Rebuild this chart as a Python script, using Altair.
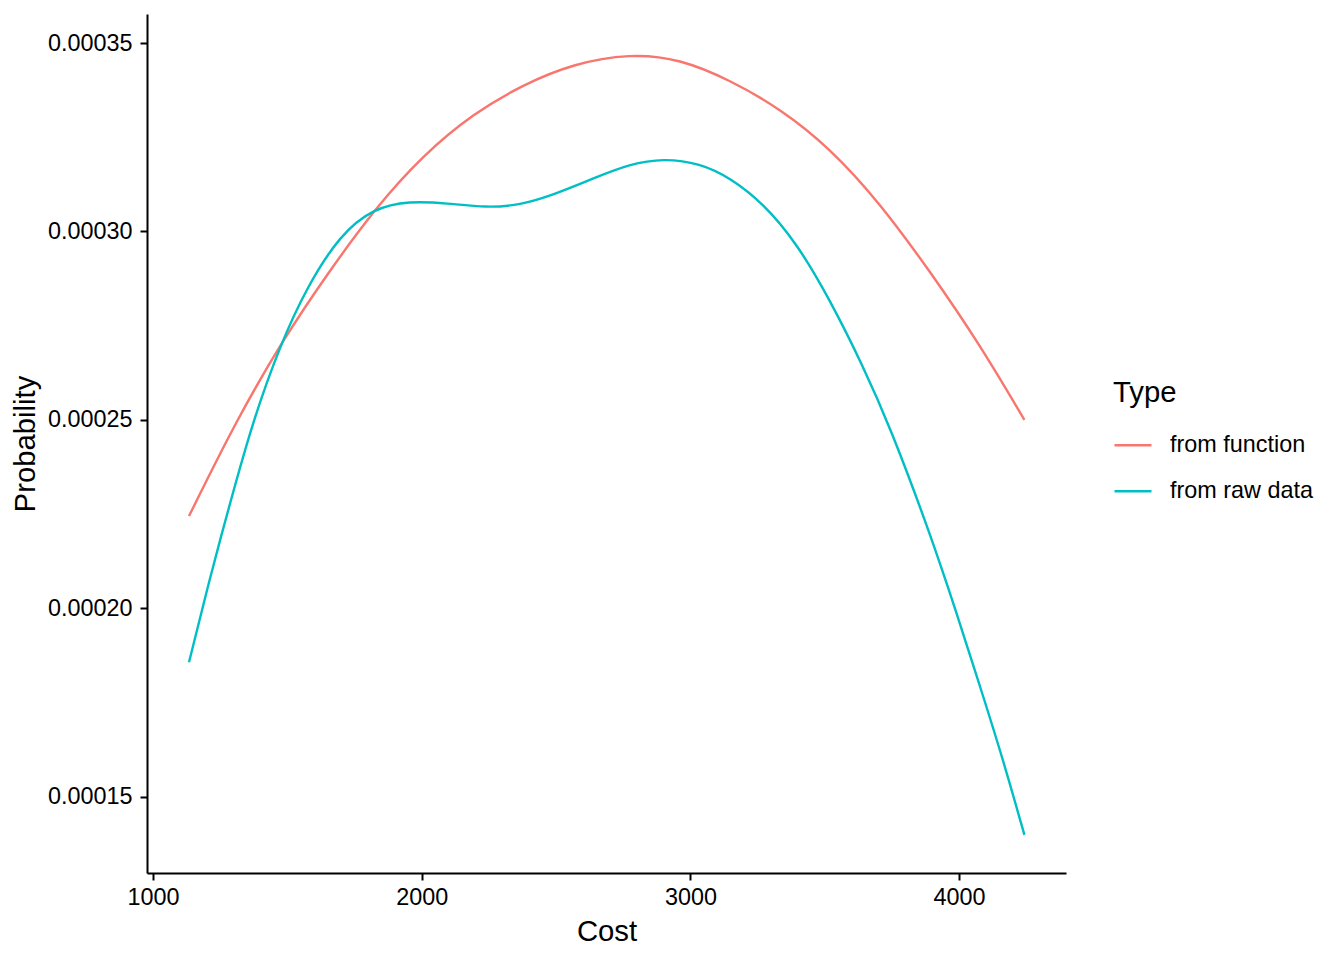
import altair as alt
import pandas as pd

cost_function = [1134, 1311, 1485, 1646, 1832, 2006, 2192, 2378, 2564, 2775, 2961,
                 3147, 3334, 3520, 3706, 3892, 4078, 4243]
prob_function = [0.0002245, 0.00025, 0.0002714, 0.0002885, 0.0003066, 0.0003203,
                 0.0003313, 0.000339, 0.0003445, 0.0003472, 0.0003458, 0.0003402,
                 0.0003326, 0.0003221, 0.0003075, 0.0002894, 0.0002699, 0.00025]

cost_raw = [1134, 1212, 1287, 1373, 1473, 1572, 1696, 1820, 1956, 2093, 2242, 2366,
            2490, 2639, 2775, 2899, 3036, 3147, 3271, 3396, 3520, 3643, 3743, 3892,
            3991, 4078, 4164, 4243]
prob_raw = [0.0001857, 0.0002082, 0.000228, 0.00025, 0.0002698, 0.0002852, 0.0002991,
            0.0003062, 0.0003081, 0.0003075, 0.0003063, 0.000307, 0.0003097, 0.0003141,
            0.0003179, 0.0003194, 0.0003181, 0.0003143, 0.0003075, 0.0002969, 0.0002818,
            0.0002642, 0.0002482, 0.0002199, 0.0001987, 0.0001793, 0.0001598, 0.0001399]

types = ["from function", "from raw data"]
colors = ["#F8766D", "#00BFC4"]
x_ticks = [1000, 2000, 3000, 4000]
y_ticks = [0.00015, 0.00020, 0.00025, 0.00030, 0.00035]

df = pd.concat([
    pd.DataFrame({"Cost": cost_function, "Probability": prob_function, "Type": types[0]}),
    pd.DataFrame({"Cost": cost_raw, "Probability": prob_raw, "Type": types[1]}),
])

W, H = 919, 859
FONT = "Liberation Sans"
LABEL_FS = 23.4
TITLE_FS = 29.3

chart = alt.Chart(df).mark_line(strokeWidth=2.4, interpolate="basis").encode(
    x=alt.X("Cost:Q",
            scale=alt.Scale(domain=[977.7, 4397.8], nice=False, zero=False),
            axis=alt.Axis(values=x_ticks, format="d", title="Cost", labelPadding=6,
                          titleX=W / 2, titleY=58, titleBaseline="middle",
                          titleAlign="center")),
    y=alt.Y("Probability:Q",
            scale=alt.Scale(domain=[0.0001298, 0.0003577], nice=False, zero=False),
            axis=alt.Axis(values=y_ticks, format=".5f", title="Probability",
                          labelPadding=8,
                          titleX=-122, titleY=H / 2, titleAngle=-90,
                          titleBaseline="middle", titleAlign="center")),
    color=alt.Color("Type:N",
                    scale=alt.Scale(domain=types, range=colors),
                    legend=alt.Legend(title="Type", orient="none",
                                      legendX=966, legendY=365,
                                      symbolType="stroke", symbolSize=1369,
                                      symbolStrokeWidth=2.4, labelOffset=17,
                                      rowPadding=14, titlePadding=17,
                                      titleFontSize=TITLE_FS, labelFontSize=LABEL_FS,
                                      titleFontWeight="normal", titleFont=FONT,
                                      labelFont=FONT, titleColor="black",
                                      labelColor="black")),
).properties(
    width=W, height=H,
    autosize=alt.AutoSizeParams(type="none"),
    padding={"left": 139, "top": 6, "right": 270, "bottom": 79},
).configure_view(stroke=None).configure_axis(
    grid=False, domainColor="black", domainWidth=2, tickColor="black", tickWidth=2,
    tickSize=7, labelColor="black", labelFont=FONT, labelFontSize=LABEL_FS,
    titleFont=FONT, titleFontSize=TITLE_FS, titleFontWeight="normal",
    titleColor="black",
)

chart.save("out.html", embed_options={"renderer": "svg", "actions": False})
